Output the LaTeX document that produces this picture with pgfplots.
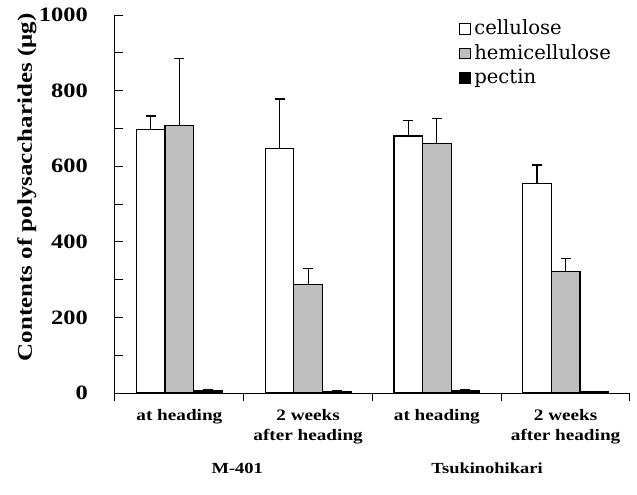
\documentclass[border=0pt]{standalone}
\usepackage{fontspec}
\setmainfont{Liberation Serif}[FakeStretch=1.2]
\newfontfamily\legfont{DejaVu Serif}
\usepackage{pgfplots}
\pgfplotsset{compat=1.18}
\begin{document}
\begin{tikzpicture}
\begin{axis}[
  width=257.5pt, height=189pt, scale only axis, clip=false,
  xmin=0, xmax=4, ymin=0, ymax=1000,
  axis x line*=bottom, axis y line*=left,
  axis line style={line width=0.5pt},
  ytick={0,200,...,1000}, minor y tick num=1,
  tick align=inside, major tick length=4pt, minor tick length=4pt,
  tick style={black, line width=0.5pt},
  xtick={0,1,2,3,4}, xticklabels={},
  /pgf/number format/assume math mode=true,
  /pgf/number format/1000 sep={},
  yticklabel style={font=\fontsize{10.2}{12}\bfseries\selectfont, xshift=-10pt},
  extra x ticks={0.5,1.5,2.5,3.5},
  extra x tick labels={at heading, 2 weeks\\after heading, at heading, 2 weeks\\after heading},
  extra x tick style={tick style={draw=none}, tick label style={align=center, anchor=north, yshift=-0.5pt, font=\fontsize{8}{10.2}\bfseries\selectfont}},
  ylabel={Contents of polysaccharides (μg)},
  ylabel style={at={(axis description cs:-0.171,0.544)}, anchor=center, rotate=0, font=\fontsize{10.4}{12}\bfseries\selectfont},
  ybar=0pt, bar width=0.222,
  legend style={draw=none, fill=none, at={(axis description cs:0.655,1.01)}, anchor=north west,
    font=\legfont\fontsize{9.8}{11}\selectfont, row sep=-0.5pt},
  legend cell align=left,
  legend image code/.code={\draw[#1, draw=black, line width=0.4pt] (0pt,-2.7pt) rectangle (5.4pt,2.7pt);},
  error bars/y dir=plus, error bars/y explicit,
  error bars/error bar style={black, line width=0.6pt},
  error bars/error mark options={black, mark size=2.5pt, line width=0.6pt, rotate=90},
]
\addplot[draw=black, line width=0.6pt, fill=white] coordinates {
  (0.5,697) +- (0,36)
  (1.5,647) +- (0,131)
  (2.5,680) +- (0,40)
  (3.5,555) +- (0,48)
};
\addlegendentry{cellulose}
\addplot[draw=black, line width=0.6pt, fill=gray!50] coordinates {
  (0.5,707) +- (0,178)
  (1.5,288) +- (0,41)
  (2.5,660) +- (0,67)
  (3.5,321) +- (0,35)
};
\addlegendentry{hemicellulose}
\addplot[draw=black, line width=0.6pt, fill=black] coordinates {
  (0.5,7) +- (0,3)
  (1.5,4) +- (0,2)
  (2.5,7) +- (0,2)
  (3.5,3) +- (0,2)
};
\addlegendentry{pectin}
\node[font=\fontsize{7.7}{9}\bfseries\selectfont] at (axis cs:0.95,0) [yshift=-37.5pt] {M-401};
\node[font=\fontsize{7.7}{9}\bfseries\selectfont] at (axis cs:2.89,0) [yshift=-37.5pt] {Tsukinohikari};
\end{axis}
\path (current axis.south west) ++(-57.5pt,-50.5pt) rectangle ++(318.5pt,247pt);
\end{tikzpicture}
\end{document}
